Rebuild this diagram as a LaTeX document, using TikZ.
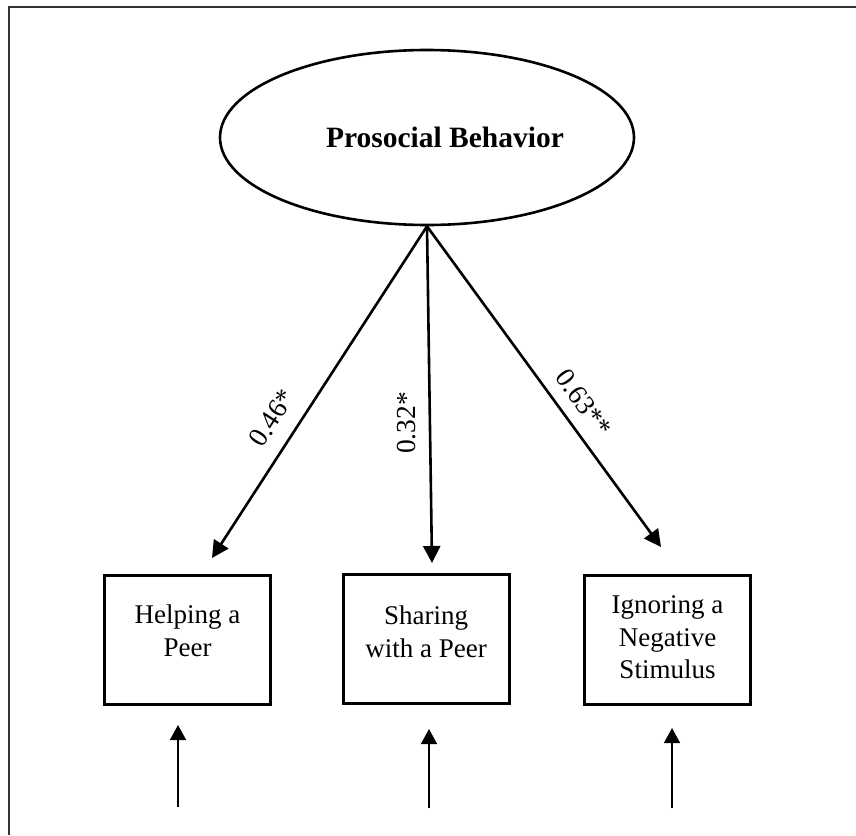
\documentclass[tikz,border=0pt]{standalone}
\usepackage{fontspec}
\setmainfont{Liberation Serif}
\usetikzlibrary{arrows.meta,shapes.geometric}
\begin{document}
\begin{tikzpicture}[x=1pt,y=-1pt,
  frameline/.style={line width=2.8pt,draw=black!80},
  latent/.style={ellipse,draw,line width=2.6pt,minimum width=414pt,minimum height=175pt,inner sep=0pt},
  titletext/.style={font=\fontsize{29.5}{34}\selectfont\bfseries},
  obsbox/.style={rectangle,draw,line width=3pt,minimum width=166pt,minimum height=129pt,inner sep=0pt},
  boxtext/.style={font=\fontsize{27}{32.5}\selectfont,align=center,inner sep=0pt},
  loadtext/.style={font=\fontsize{27.5}{30}\selectfont,inner sep=0pt},
  toparrow/.style={line width=2.6pt,-{Triangle[length=17pt,width=17pt]}},
  errarrow/.style={line width=1.5pt,-{Triangle[length=15pt,width=16pt]}}]
\useasboundingbox (0,0) rectangle (856,835);
% frame
\coordinate (fbl) at (9,835);
\coordinate (ftl) at (9,7);
\coordinate (ftr) at (856,7);
\draw[frameline] (fbl) -- (ftl) -- (ftr);
% latent
\node[latent,label={[titletext,xshift=18pt]center:Prosocial Behavior}] (pb) at (427,137.5) {};
% observed boxes
\node[obsbox,label={[boxtext,yshift=8.5pt]center:{Helping a\\Peer}}] (b1) at (187.5,639.5) {};
\node[obsbox,label={[boxtext,yshift=6.5pt]center:{Sharing\\with a Peer}}] (b2) at (426,638.5) {};
\node[obsbox,label={[boxtext,yshift=2.5pt]center:{Ignoring a\\Negative\\Stimulus}}] (b3) at (667.5,640) {};
% loading arrows
\coordinate (t1) at (212,558);
\coordinate (t2) at (432,563);
\coordinate (t3) at (661,547);
\draw[toparrow] (pb.south) -- (t1);
\draw[toparrow] (pb.south) -- (t2);
\draw[toparrow] (pb.south) -- (t3);
\node[loadtext,rotate=57] (l1) at (272,418) {0.46*};
\node[loadtext,rotate=90] (l2) at (407,423) {0.32*};
\node[loadtext,rotate=-54] (l3) at (584,403) {0.63**};
% error arrows
\coordinate (e1s) at (178,807);
\coordinate (e1t) at (178,725);
\coordinate (e2s) at (429,808);
\coordinate (e2t) at (429,729);
\coordinate (e3s) at (672,808);
\coordinate (e3t) at (672,728);
\draw[errarrow] (e1s) -- (e1t);
\draw[errarrow] (e2s) -- (e2t);
\draw[errarrow] (e3s) -- (e3t);
\end{tikzpicture}
\end{document}
